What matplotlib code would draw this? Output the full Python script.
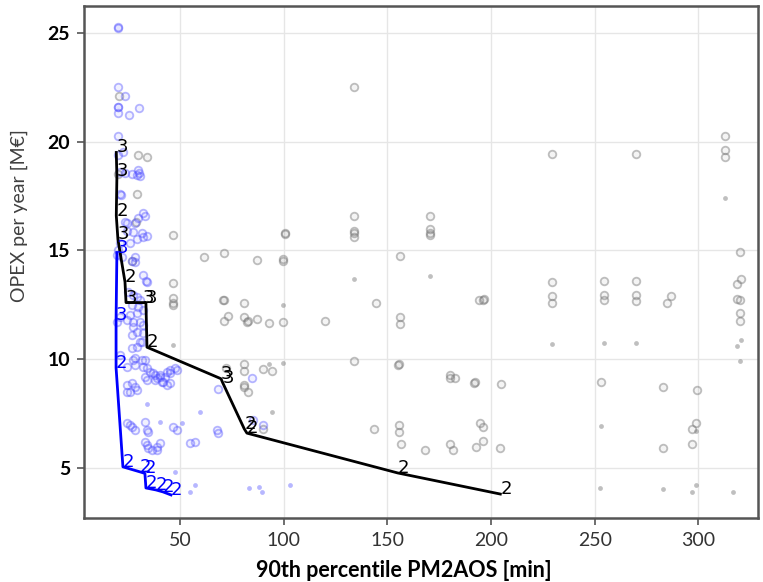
import matplotlib
matplotlib.use("Agg")
import matplotlib.pyplot as plt

plt.rcParams['font.family'] = ['Lato', 'DejaVu Sans']

# Pareto front, solution with 2 / 3 ... (black) and its counterpart (blue)
front_black_x = [19.3, 19.6, 19.3, 20.1, 23.5, 24.0, 32.2, 33.6, 34.1, 69.8, 70.7, 81.0, 82.3, 155.0, 204.5]
front_black_y = [19.5, 18.4, 16.6, 15.5, 13.55, 12.6, 12.6, 12.6, 10.55, 9.1, 8.9, 6.8, 6.6, 4.77, 3.8]
front_black_lab = ['3', '3', '2', '3', '2', '3', '3', '3', '2', '3', '3', '2', '2', '2', '2']

front_blue_x = [19.6, 19.2, 19.2, 22.5, 30.7, 33.1, 33.6, 38.4, 41.8, 45.7]
front_blue_y = [14.9, 11.8, 9.6, 5.05, 4.82, 4.75, 4.08, 3.99, 3.9, 3.76]
front_blue_lab = ['3', '3', '2', '2', '2', '2', '2', '2', '2', '2']

# all evaluated configurations
gray_x = [134, 134, 134, 134, 134, 170.5, 170.5, 170.5, 170.5, 100.5, 100.5, 99.7, 99.7,
          61.6, 71.2, 87.1, 156, 144.5, 71.2, 80.8, 73.1, 71.2, 80.8, 82.8, 82.3, 87.1,
          92.9, 99.6, 119.9, 156, 156, 194, 229.3, 269.8, 313, 313, 313, 319.9, 229.3,
          229.3, 229.3, 254.3, 254.3, 254.3, 269.8, 269.8, 269.8, 286.6, 284.7, 196, 196.5,
          320.4, 318.4, 318.4, 319.9, 320, 320, 204.7, 252.9, 282.8, 299.2, 298.7, 296.7,
          204.2, 282.8, 296.7, 196, 196, 194.6, 72.2, 80.8, 80.8, 80.8, 80.8, 82.8, 90,
          94.3, 133.9, 155.5, 155.3, 180, 180, 182.5, 192.2, 192, 90, 143.5, 155.5, 155.5,
          156.5, 168, 180, 181.6, 193, 20.6, 29.8, 34.1, 29.3, 20.1, 28.8, 46.6, 46.6,
          46.6, 46.6, 46.6, 26.9, 70.7]
gray_y = [22.5, 16.6, 15.9, 15.8, 15.6, 16.6, 16.0, 15.8, 15.7, 15.8, 15.75, 14.6, 14.5,
          14.7, 14.9, 14.55, 14.75, 12.6, 12.7, 12.6, 12.0, 11.75, 11.95, 11.75, 11.7, 11.85,
          11.65, 11.7, 11.75, 11.95, 11.6, 12.7, 19.45, 19.45, 20.27, 19.6, 19.3, 14.93, 13.55,
          12.9, 12.6, 13.6, 12.95, 12.7, 13.6, 12.95, 12.65, 12.9, 12.6, 12.7, 12.75,
          13.7, 13.45, 12.77, 12.7, 12.1, 11.75, 8.86, 8.95, 8.72, 8.6, 7.07, 6.8,
          5.92, 5.92, 6.1, 6.9, 6.24, 7.07, 9.6, 9.78, 9.46, 8.8, 8.7, 8.5, 9.55,
          9.46, 9.92, 9.78, 9.75, 9.28, 9.14, 9.14, 8.95, 8.9, 6.8, 6.8, 6.98, 6.66,
          6.1, 5.83, 6.1, 5.83, 5.97, 22.1, 19.4, 19.3, 17.6, 18.5, 16.3, 15.7, 13.5,
          12.8, 12.6, 12.5, 14.5, 12.7]
gray_small_x = [134, 170.5, 99.6, 313, 229.3, 254.3, 269.8, 320.4, 318.4, 252.9, 299,
                252.4, 282.8, 296.7, 298.7, 316.5, 92.9, 99.6, 94.3, 46.6, 320]
gray_small_y = [13.7, 13.8, 12.5, 17.4, 10.7, 10.75, 10.75, 10.9, 10.6, 6.93, 6.7,
                4.08, 4.03, 3.9, 4.22, 3.9, 9.78, 9.83, 7.58, 10.65, 9.9]

blue_x = [20.1, 20.1, 20.1, 23.5, 20.1, 20.3, 30.2, 20.1, 25.4, 20.1, 20.1, 22.5, 21.1,
          23.5, 29.8, 30.2, 29.3, 30.7, 26.9, 21.1, 21.6, 32.2, 33.1, 23.5, 29.8, 24.5,
          28.3, 24.5, 27.3, 31.7, 34.1, 32.2, 29.3, 26.0, 21.1, 20.1, 19.6, 22.0, 28.3,
          26.9, 28.3, 32.2, 34.1, 33.5, 24.9, 27.3, 29.3, 30.7, 26.9, 29.8, 32.2, 29.3,
          25.9, 21.1, 19.6, 24.5, 27.3, 30.7, 32.2, 27.3, 29.3, 26.9, 32.2, 30.7, 29.3,
          26.9, 31.7, 21.1, 28.3, 33.1, 24.5, 34.1, 37.0, 43.7, 47.6, 27.3, 31.7, 28.3,
          32.2, 37.9, 40.4, 45.2, 42.8, 35.5, 40.4, 45.2, 48.6, 38.9, 41.3, 43.7, 45.2,
          24.5, 26.9, 28.3, 25.9, 24.5, 29.3, 34.1, 33.1, 37.9, 41.8, 24.5, 25.9, 26.9,
          28.3, 33.1, 34.1, 34.6, 46.6, 48.6, 67.8, 68.3, 33.1, 34.1, 34.6, 36.5, 38.9,
          40.4, 38.9, 54.8, 57.2, 68.3, 84.7, 85.2, 90.0]
blue_y = [25.2, 25.25, 22.5, 22.1, 21.6, 21.6, 21.55, 21.3, 21.2, 20.25, 19.4, 19.5, 18.6,
          18.55, 18.7, 18.55, 18.47, 18.4, 18.5, 17.6, 17.55, 16.7, 16.6, 16.3, 16.5, 16.26,
          16.26, 15.9, 15.85, 15.8, 15.65, 15.6, 15.5, 15.35, 15.35, 15.0, 14.8, 14.7, 14.7,
          14.5, 14.45, 13.85, 13.55, 13.6, 13.09, 12.95, 12.86, 12.72, 12.49, 12.4, 12.26, 12.13,
          12.03, 11.94, 11.71, 11.8, 11.71, 11.71, 11.57, 11.48, 11.25, 11.11, 11.21, 10.79, 10.56,
          10.52, 10.8, 10.2, 10.06, 9.97, 9.64, 9.6, 9.37, 9.41, 9.6, 9.96, 9.96, 9.74,
          9.64, 9.28, 9.18, 9.51, 9.18, 9.41, 9.28, 9.37, 9.51, 9.14, 8.95, 8.82, 8.91,
          8.82, 8.91, 8.72, 8.49, 8.49, 8.59, 9.05, 9.18, 9.05, 8.95, 7.07, 6.98, 6.89,
          6.75, 7.11, 6.75, 6.66, 6.89, 6.75, 6.75, 6.6, 6.2, 6.06, 5.92, 5.83, 5.97,
          6.15, 5.83, 6.15, 6.2, 8.63, 9.14, 7.2, 6.98]
blue_small_x = [34.1, 59.6, 40.4, 51.0, 47.6, 54.8, 57.2, 83.2, 88.1, 89.5, 103.0]
blue_small_y = [7.94, 7.57, 7.11, 7.07, 4.82, 3.9, 4.22, 4.08, 4.13, 3.9, 4.22]

fig = plt.figure(figsize=(7.63, 5.82), dpi=100)
ax = fig.add_axes([0.110, 0.110, 0.883, 0.880])

gface = (0.45, 0.45, 0.45, 0.08)
gedge = (0.45, 0.45, 0.45, 0.45)
bface = (0.3, 0.3, 1.0, 0.08)
bedge = (0.3, 0.3, 1.0, 0.4)
ax.scatter(gray_x, gray_y, s=30, facecolors=gface, edgecolors=gedge, linewidths=1.3, zorder=2)
ax.scatter(gray_small_x, gray_small_y, s=12, color=(0.45, 0.45, 0.45, 0.45), linewidths=0, zorder=2)
ax.scatter(blue_x, blue_y, s=30, facecolors=bface, edgecolors=bedge, linewidths=1.3, zorder=2)
ax.scatter(blue_small_x, blue_small_y, s=12, color=(0.3, 0.3, 1.0, 0.4), linewidths=0, zorder=2)

ax.plot(front_black_x, front_black_y, color='black', lw=2, zorder=3)
ax.plot(front_blue_x, front_blue_y, color='blue', lw=2, zorder=3)
for x, y, t in zip(front_black_x, front_black_y, front_black_lab):
    ax.text(x, y, t, color='black', fontsize=13, family='DejaVu Sans', zorder=4)
for x, y, t in zip(front_blue_x, front_blue_y, front_blue_lab):
    ax.text(x, y, t, color='blue', fontsize=13, family='DejaVu Sans', zorder=4)

ax.set_xlim(3.7, 328.6)
ax.set_ylim(2.7, 26.24)
ax.set_xticks([50, 100, 150, 200, 250, 300])
ax.set_yticks([5, 10, 15, 20, 25])
ax.grid(True, color='#e6e6e6', lw=1)
ax.set_axisbelow(True)
for s in ax.spines.values():
    s.set_color('#555555')
    s.set_linewidth(1.8)
ax.tick_params(axis='both', length=5, width=1.2, color='#555555', labelsize=14)
ax.tick_params(axis='y', pad=5)
ax.tick_params(axis='x', pad=5, labelcolor='#333333')
for lb in ax.get_yticklabels():
    lb.set_fontweight('bold')

ax.set_xlabel('90th percentile PM2AOS [min]', fontsize=15.5, fontweight='bold')
ax.set_ylabel('OPEX per year [M€]', fontsize=14, color='#404040')
# labels sit off-centre in the original
ax.xaxis.set_label_coords(0.475, -0.082)
ax.yaxis.set_label_coords(-0.083, 0.59)

fig.savefig('out.png', dpi=100)
